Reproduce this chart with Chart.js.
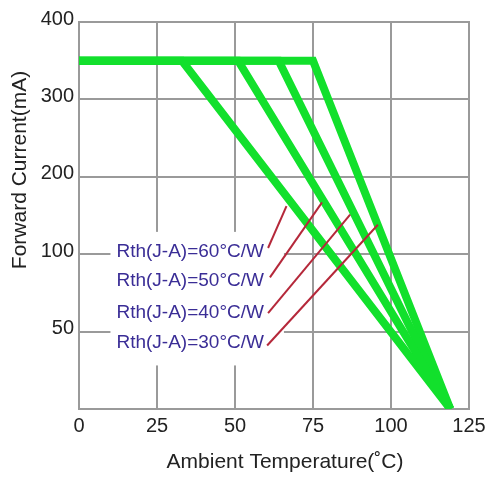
<!DOCTYPE html>
<html>
<head>
<meta charset="utf-8">
<script src="https://cdn.jsdelivr.net/npm/chart.js@4.4.1/dist/chart.umd.min.js"></script>
<style>
  html, body { margin: 0; padding: 0; background: #ffffff; }
  #wrap { width: 486px; height: 478px; }
</style>
</head>
<body>
<div id="wrap"><canvas id="c" width="486" height="478"></canvas></div>
<script>
// ---- data ----
const xTickValues = [0, 25, 50, 75, 100, 125];             // Ambient temperature (°C)
const yTickValues = [0, 50, 100, 200, 300, 400];           // Forward current (mA), evenly spaced ticks
const seriesNames = ['Rth(J-A)=60°C/W', 'Rth(J-A)=50°C/W', 'Rth(J-A)=40°C/W', 'Rth(J-A)=30°C/W'];
const rth60Temp = [0, 33, 119];
const rth50Temp = [0, 51, 119];
const rth40Temp = [0, 64, 119];
const rth30Temp = [0, 75, 119];
const deratingCurrent = [350, 350, 0];                     // mA at each of the temperatures above
// leader lines: [start, end] for each label
const leaderTemp    = [[60.6, 66.5], [61.2, 77.9], [60.6, 86.9], [60.3, 95.8]];
const leaderCurrent = [[108, 162],  [85, 167],    [62, 151],    [41, 138]];
// label anchors (left edge of text, row centre)
const labelTemp    = [12, 12, 12, 12];
const labelCurrent = [103, 83, 62, 43];

const xTitle = 'Ambient Temperature(˚C)';
const yTitle = 'Forward Current(mA)';

// piecewise mapping of current onto the evenly spaced tick axis
function toAxis(v) {
  for (let i = 0; i < yTickValues.length - 1; i++) {
    const a = yTickValues[i], b = yTickValues[i + 1];
    if (v <= b) return i + (v - a) / (b - a);
  }
  return yTickValues.length - 1;
}

const GREEN = '#12e02c';
const RED = '#b5283a';
const GRID = '#9a9a9a';
const FONT = '"Liberation Sans", Arial, sans-serif';

const greenSets = [rth60Temp, rth50Temp, rth40Temp, rth30Temp].map((temps, k) => ({
  label: seriesNames[k],
  data: temps.map((t, i) => ({ x: t, y: toAxis(deratingCurrent[i]) })),
  borderColor: GREEN,
  borderWidth: 8,
  pointRadius: 0,
  fill: false,
  tension: 0,
  order: 2
}));
const redSets = leaderTemp.map((temps, k) => ({
  label: 'leader ' + k,
  data: temps.map((t, i) => ({ x: t, y: toAxis(leaderCurrent[k][i]) })),
  borderColor: RED,
  borderWidth: 2,
  pointRadius: 0,
  fill: false,
  tension: 0,
  order: 1
}));

const labelPlugin = {
  id: 'labels',
  beforeDatasetsDraw(chart) {
    const ctx = chart.ctx, xs = chart.scales.x, ys = chart.scales.y;
    ctx.save();
    ctx.font = '19px ' + FONT;
    let w = 0;
    seriesNames.forEach(s => { w = Math.max(w, ctx.measureText(s).width); });
    const x0 = xs.getPixelForValue(labelTemp[0]);
    const yTop = ys.getPixelForValue(toAxis(labelCurrent[0]));
    const yBot = ys.getPixelForValue(toAxis(labelCurrent[labelCurrent.length - 1]));
    ctx.fillStyle = '#ffffff';
    ctx.fillRect(x0 - 6, yTop - 20, w + 26, (yBot - yTop) + 43);
    ctx.restore();
  },
  afterDatasetsDraw(chart) {
    const ctx = chart.ctx, xs = chart.scales.x, ys = chart.scales.y;
    ctx.save();
    ctx.font = '19px ' + FONT;
    ctx.fillStyle = '#3a2d96';
    ctx.textBaseline = 'middle';
    ctx.textAlign = 'left';
    seriesNames.forEach((s, k) => {
      ctx.fillText(s, xs.getPixelForValue(labelTemp[k]), ys.getPixelForValue(toAxis(labelCurrent[k])));
    });
    // axis titles
    ctx.fillStyle = '#222222';
    ctx.font = '21px ' + FONT;
    ctx.textAlign = 'center';
    ctx.fillText(xTitle, (xs.left + xs.right) / 2 + 11, 462);
    ctx.translate(20, 170);
    ctx.rotate(-Math.PI / 2);
    ctx.fillText(yTitle, 0, 0);
    ctx.restore();
  }
};

new Chart(document.getElementById('c'), {
  type: 'line',
  data: { datasets: [...redSets, ...greenSets] },
  options: {
    responsive: false,
    animation: false,
    devicePixelRatio: 1,
    layout: { padding: { left: 0, top: 22, right: 17, bottom: 0 } },
    plugins: { legend: { display: false }, tooltip: { enabled: false } },
    scales: {
      x: {
        type: 'linear',
        min: xTickValues[0],
        max: xTickValues[xTickValues.length - 1],
        afterBuildTicks: (s) => { s.ticks = xTickValues.map(v => ({ value: v })); },
        afterFit: (s) => { s.height = 69; s.paddingLeft = 0; s.paddingRight = 0; },
        ticks: {
          color: '#222222',
          font: { family: FONT, size: 20 },
          padding: 5,
          maxRotation: 0,
          autoSkip: false
        },
        grid: { color: GRID, lineWidth: 2, drawTicks: false },
        border: { color: GRID, width: 2 }
      },
      y: {
        type: 'linear',
        min: 0,
        max: yTickValues.length - 1,
        afterBuildTicks: (s) => { s.ticks = yTickValues.map((v, i) => ({ value: i })); },
        afterFit: (s) => { s.width = 79; s.paddingTop = 0; s.paddingBottom = 0; },
        ticks: {
          color: '#222222',
          font: { family: FONT, size: 20 },
          padding: 5,
          labelOffset: -3,
          callback: (v) => (v === 0 ? '' : String(yTickValues[v]))
        },
        grid: { color: GRID, lineWidth: 2, drawTicks: false },
        border: { color: GRID, width: 2 }
      }
    }
  },
  plugins: [labelPlugin, {
    id: 'frame',
    afterDraw(chart) {
      const { ctx, chartArea: a } = chart;
      ctx.save();
      ctx.strokeStyle = GRID;
      ctx.lineWidth = 2;
      ctx.beginPath();
      ctx.moveTo(a.left, a.top); ctx.lineTo(a.right, a.top); ctx.lineTo(a.right, a.bottom);
      ctx.stroke();
      ctx.restore();
    }
  }]
});
</script>
</body>
</html>
